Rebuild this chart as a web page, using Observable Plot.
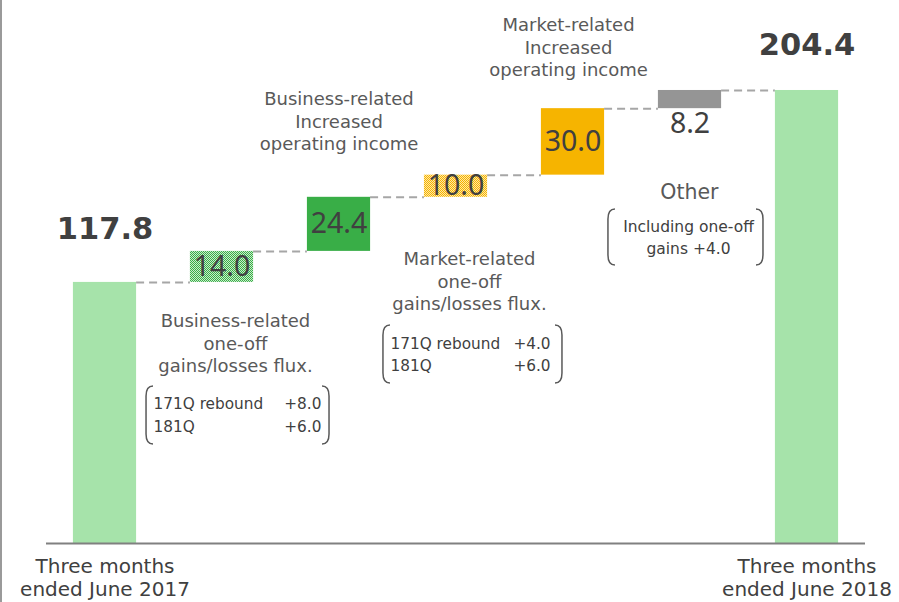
<!DOCTYPE html>
<html><head><meta charset="utf-8">
<script src="https://cdn.jsdelivr.net/npm/d3@7"></script>
<script src="https://cdn.jsdelivr.net/npm/@observablehq/plot@0.6"></script>
<style>body{margin:0;background:#fff;} svg{display:block}</style>
</head><body><div id="chart"></div>
<script>
// ---- data ----
const categories = ["Three months ended June 2017", "Business-related one-off", "Business-related increase", "Market-related one-off", "Market-related increase", "Other", "Three months ended June 2018"];
const values = [117.8, 14.0, 24.4, 10.0, 30.0, 8.2, 204.4];
const groups = ["total", "business-oneoff", "business", "market-oneoff", "market", "other", "total"];
const barLabels = ["117.8", "14.0", "24.4", "10.0", "30.0", "8.2", "204.4"];
const axisLabels = ["Three months\nended June 2017", "", "", "", "", "", "Three months\nended June 2018"];
const notes = [
  {text: "Business-related\nIncreased\noperating income", x: 2.0, y: 190.9},
  {text: "Business-related\none-off\ngains/losses flux.", x: 1.115, y: 90.7},
  {text: "Market-related\none-off\ngains/losses flux.", x: 3.115, y: 118.7},
  {text: "Market-related\nIncreased\noperating income", x: 3.962, y: 224.3}
];
const otherNote = [{text: "Other", x: 4.995, y: 158.4}];
const brackets = [
  {x1: 0.355, x2: 1.919, top: 70.8, bottom: 44.7},
  {x1: 2.380, x2: 3.910, top: 98.4, bottom: 72.2},
  {x1: 4.303, x2: 5.628, top: 150.7, bottom: 125.4}
];
const bracketLeft = [
  {text: "171Q rebound", x: 0.415, y: 62.7}, {text: "181Q", x: 0.415, y: 52.3},
  {text: "171Q rebound", x: 2.440, y: 89.8}, {text: "181Q", x: 2.440, y: 79.9}
];
const bracketRight = [
  {text: "+8.0", x: 1.850, y: 62.7}, {text: "+6.0", x: 1.850, y: 52.3},
  {text: "+4.0", x: 3.808, y: 89.8}, {text: "+6.0", x: 3.808, y: 79.9}
];
const bracketCenter = [
  {text: "Including one-off", x: 4.987, y: 143.0}, {text: "gains +4.0", x: 4.987, y: 132.7}
];

// ---- derived ----
let run = 0;
const bars = values.map((v, i) => {
  let y1, y2;
  if (groups[i] === "total") { y1 = 0; y2 = v; run = v; }
  else { y1 = run; y2 = run + v; run = y2; }
  return {i, category: categories[i], group: groups[i], y1, y2, label: barLabels[i], axis: axisLabels[i]};
});
const W = 0.27;
const connectors = bars.slice(0, -1).map(b => ({y: b.y2, x1: b.i + W, x2: b.i + 1 - W}));

const FONT = "DejaVu Sans";
const NUMFONT = "Noto Sans";
const svgNS = "http://www.w3.org/2000/svg";

function bracketMark(index, scales) {
  const g = document.createElementNS(svgNS, "g");
  for (const b of brackets) {
    const xl = scales.x(b.x1), xr = scales.x(b.x2), yt = scales.y(b.top), yb = scales.y(b.bottom);
    const h = 7, r = 10;
    const d = `M${xl + h},${yt} Q${xl},${yt} ${xl},${yt + r} L${xl},${yb - r} Q${xl},${yb} ${xl + h},${yb} ` +
              `M${xr - h},${yt} Q${xr},${yt} ${xr},${yt + r} L${xr},${yb - r} Q${xr},${yb} ${xr - h},${yb}`;
    const p = document.createElementNS(svgNS, "path");
    p.setAttribute("d", d);
    p.setAttribute("fill", "none");
    p.setAttribute("stroke", "#595959");
    p.setAttribute("stroke-width", "1.5");
    g.appendChild(p);
  }
  return g;
}
function leftLine(index, scales, values, dims) {
  const l = document.createElementNS(svgNS, "line");
  l.setAttribute("x1", 1); l.setAttribute("x2", 1);
  l.setAttribute("y1", 0); l.setAttribute("y2", dims.height);
  l.setAttribute("stroke", "#9a9a9a"); l.setAttribute("stroke-width", 2);
  return l;
}

const plot = Plot.plot({
  width: 899, height: 602,
  marginLeft: 46, marginRight: 34, marginTop: 0, marginBottom: 59,
  x: {domain: [-0.5, 6.5], axis: null},
  y: {domain: [0, 245], axis: null},
  color: {type: "ordinal",
    domain: ["total", "business-oneoff", "business", "market-oneoff", "market", "other"],
    range: ["#a6e3aa", "url(#checkGreen)", "#39ae47", "url(#checkYellow)", "#f6b400", "#959595"]},
  style: {background: "white", overflow: "visible"},
  marks: [
    leftLine,
    Plot.ruleY(connectors, {y: "y", x1: "x1", x2: "x2", stroke: "#a6a6a6", strokeWidth: 2, strokeDasharray: "8,5"}),
    Plot.rect(bars, {x1: d => d.i - W, x2: d => d.i + W, y1: "y1", y2: "y2", fill: "group"}),
    Plot.ruleY([0], {stroke: "#808080", strokeWidth: 2}),
    // totals
    Plot.text([bars[0]], {x: "i", y: "y2", text: "label", dy: -53, fontSize: 30.5, fontWeight: "bold", fontFamily: FONT, fill: "#404040"}),
    Plot.text([bars[6]], {x: "i", y: "y2", text: "label", dy: -45, fontSize: 30.5, fontWeight: "bold", fontFamily: FONT, fill: "#404040"}),
    // delta labels
    Plot.text(bars.slice(1, 5), {x: "i", y: d => (d.y1 + d.y2) / 2, text: "label", fontSize: 28.5, fontFamily: NUMFONT, fill: "#404040"}),
    Plot.text([bars[5]], {x: "i", y: "y1", dy: 15, text: "label", fontSize: 28.5, fontFamily: NUMFONT, fill: "#404040"}),
    // axis labels
    Plot.text([bars[0], bars[6]], {x: "i", y: 0, text: "axis", lineAnchor: "top", dy: 13, lineHeight: 1.15, fontSize: 20, fontFamily: FONT, fill: "#404040"}),
    // annotations
    Plot.text(notes, {x: "x", y: "y", text: "text", lineHeight: 1.25, fontSize: 18, fontFamily: FONT, fill: "#595959"}),
    Plot.text(otherNote, {x: "x", y: "y", text: "text", fontSize: 20.5, fontFamily: FONT, fill: "#595959"}),
    bracketMark,
    Plot.text(bracketLeft, {x: "x", y: "y", text: "text", textAnchor: "start", fontSize: 15.3, fontFamily: FONT, fill: "#404040"}),
    Plot.text(bracketRight, {x: "x", y: "y", text: "text", textAnchor: "end", fontSize: 15.3, fontFamily: FONT, fill: "#404040"}),
    Plot.text(bracketCenter, {x: "x", y: "y", text: "text", fontSize: 15.5, fontFamily: FONT, fill: "#404040"})
  ]
});

// checker patterns for one-off bars
const defs = document.createElementNS(svgNS, "defs");
function checker(id, color, light) {
  const p = document.createElementNS(svgNS, "pattern");
  p.setAttribute("id", id); p.setAttribute("patternUnits", "userSpaceOnUse");
  p.setAttribute("width", 2); p.setAttribute("height", 2);
  const bg = document.createElementNS(svgNS, "rect");
  bg.setAttribute("width", 2); bg.setAttribute("height", 2); bg.setAttribute("fill", light);
  const a = document.createElementNS(svgNS, "rect");
  a.setAttribute("width", 1); a.setAttribute("height", 1); a.setAttribute("fill", color);
  const b = document.createElementNS(svgNS, "rect");
  b.setAttribute("x", 1); b.setAttribute("y", 1); b.setAttribute("width", 1); b.setAttribute("height", 1); b.setAttribute("fill", color);
  p.append(bg, a, b);
  defs.appendChild(p);
}
checker("checkGreen", "#39ae47", "#c8ebcb");
checker("checkYellow", "#f6b400", "#fde6a6");
plot.insertBefore(defs, plot.firstChild);
document.getElementById("chart").appendChild(plot);
</script>
</body></html>
